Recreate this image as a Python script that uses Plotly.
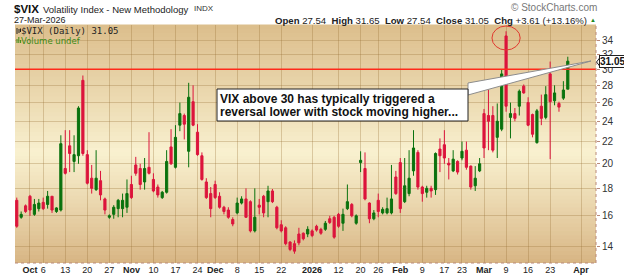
import math
import plotly.graph_objects as go

# ---------------- data ----------------
dates = [
    "2025-09-26", "2025-09-29", "2025-09-30",
    "2025-10-01", "2025-10-02", "2025-10-03", "2025-10-06", "2025-10-07", "2025-10-08", "2025-10-09",
    "2025-10-10", "2025-10-13", "2025-10-14", "2025-10-15", "2025-10-16", "2025-10-17", "2025-10-20",
    "2025-10-21", "2025-10-22", "2025-10-23", "2025-10-24", "2025-10-27", "2025-10-28", "2025-10-29",
    "2025-10-30", "2025-10-31",
    "2025-11-03", "2025-11-04", "2025-11-05", "2025-11-06", "2025-11-07", "2025-11-10", "2025-11-11",
    "2025-11-12", "2025-11-13", "2025-11-14", "2025-11-17", "2025-11-18", "2025-11-19", "2025-11-20",
    "2025-11-21", "2025-11-24", "2025-11-25", "2025-11-26", "2025-11-28",
    "2025-12-01", "2025-12-02", "2025-12-03", "2025-12-04", "2025-12-05", "2025-12-08", "2025-12-09",
    "2025-12-10", "2025-12-11", "2025-12-12", "2025-12-15", "2025-12-16", "2025-12-17", "2025-12-18",
    "2025-12-19", "2025-12-22", "2025-12-23", "2025-12-24", "2025-12-26", "2025-12-29", "2025-12-30",
    "2025-12-31",
    "2026-01-02", "2026-01-05", "2026-01-06", "2026-01-07", "2026-01-08", "2026-01-09", "2026-01-12",
    "2026-01-13", "2026-01-14", "2026-01-15", "2026-01-16", "2026-01-20", "2026-01-21", "2026-01-22",
    "2026-01-23", "2026-01-26", "2026-01-27", "2026-01-28", "2026-01-29", "2026-01-30",
    "2026-02-02", "2026-02-03", "2026-02-04", "2026-02-05", "2026-02-06", "2026-02-09", "2026-02-10",
    "2026-02-11", "2026-02-12", "2026-02-13", "2026-02-17", "2026-02-18", "2026-02-19", "2026-02-20",
    "2026-02-23", "2026-02-24", "2026-02-25", "2026-02-26", "2026-02-27",
    "2026-03-02", "2026-03-03", "2026-03-04", "2026-03-05", "2026-03-06", "2026-03-09", "2026-03-10",
    "2026-03-11", "2026-03-12", "2026-03-13", "2026-03-16", "2026-03-17", "2026-03-18", "2026-03-19",
    "2026-03-20", "2026-03-23", "2026-03-24", "2026-03-25", "2026-03-26", "2026-03-27",
]
future_dates = ["2026-03-30", "2026-03-31", "2026-04-01"]

open_ = [
    17.1, 15.9, 16.7,
    17.4, 16.1, 16.5, 16.95, 16.8, 17.4, 16.3, 16.4, 19.6, 21.6, 20.2, 20.7, 28.6, 20.8, 18.8, 17.9,
    18.6, 17.2, 15.9, 16.1, 16.5, 16.5, 16.6,
    18.3, 19.9, 19.6, 18.5, 19.7, 18.7, 18.1, 17.3, 17.7, 21.5, 19.7, 23.6, 24.6, 21.1, 26.1, 22.9,
    20.7, 18.5, 17.6,
    18.3, 17.4, 16.6, 16.4, 15.75, 16.2, 16.9, 17.2, 17.0, 15.0, 16.75, 17.4, 17.0, 17.8, 16.6, 15.4,
    15.2, 14.3, 14.2, 14.8, 14.85, 14.8,
    15.0, 15.3, 15.1, 15.1, 15.8, 15.9, 16.1, 15.5, 16.5, 16.8, 15.5, 20.1, 19.6, 16.9, 15.8, 17.1,
    16.2, 16.2, 16.2, 18.9,
    20.1, 17.0, 17.6, 19.4, 21.0, 18.1, 17.7, 18.0, 17.9, 21.3, 21.7, 20.05, 19.4, 20.2, 20.5, 21.2,
    19.8, 18.2, 19.4,
    24.8, 24.6, 24.6, 22.4, 23.2, 34.6, 24.4, 24.8, 25.6, 27.9, 26.0, 24.7, 21.9, 25.6, 24.4, 29.4,
    26.2, 25.9, 26.5, 27.54,
]
high = [
    17.3, 16.3, 16.8,
    17.5, 17.2, 17.2, 17.3, 17.8, 17.4, 16.6, 22.6, 23.1, 23.1, 22.6, 25.6, 29.2, 21.2, 19.9, 21.2,
    19.4, 17.3, 16.1, 16.75, 17.2, 17.6, 18.7,
    19.0, 20.6, 20.0, 20.5, 22.9, 19.2, 18.3, 17.8, 21.2, 23.2, 23.6, 26.0, 24.8, 28.3, 28.0, 23.7,
    21.0, 18.8, 18.1,
    18.6, 17.7, 16.7, 16.6, 15.9, 17.3, 17.4, 18.0, 17.1, 18.0, 17.2, 17.5, 18.2, 17.95, 16.7, 15.7,
    15.3, 14.35, 14.4, 15.2, 14.9, 15.3,
    15.1, 15.4, 15.2, 15.65, 16.0, 16.0, 16.2, 16.5, 18.3, 16.9, 16.1, 21.1, 21.0, 16.95, 16.4, 17.6,
    16.6, 17.3, 19.9, 19.4,
    20.5, 20.5, 21.2, 23.1, 21.2, 18.2, 18.2, 18.2, 21.0, 22.3, 23.1, 20.5, 21.2, 20.3, 22.0, 22.0,
    19.85, 19.8, 20.5,
    25.3, 27.5, 25.6, 25.9, 30.0, 35.3, 26.0, 25.4, 27.5, 28.1, 26.6, 24.8, 25.3, 26.9, 27.9, 31.0,
    28.0, 26.1, 28.5, 31.65,
]
low = [
    15.2, 15.8, 16.2,
    16.0, 16.0, 16.3, 16.4, 16.5, 16.2, 16.2, 16.3, 19.1, 19.3, 19.3, 20.0, 20.7, 18.3, 17.6, 17.8,
    17.1, 16.1, 15.8, 15.8, 15.9, 15.9, 16.2,
    17.2, 19.0, 17.9, 17.9, 19.1, 17.7, 17.3, 17.2, 17.6, 19.9, 19.6, 23.0, 22.2, 19.7, 23.5, 20.7,
    18.6, 17.2, 15.9,
    17.2, 16.5, 16.1, 15.8, 15.3, 16.1, 16.8, 15.85, 14.9, 14.9, 16.1, 15.9, 15.9, 16.9, 15.1, 14.9,
    14.1, 13.75, 13.6, 14.1, 14.4, 14.6,
    14.6, 14.95, 14.75, 15.0, 15.45, 14.5, 15.2, 15.0, 16.4, 15.9, 15.4, 19.3, 17.1, 15.5, 15.7, 15.9,
    16.1, 16.1, 16.1, 17.5,
    16.2, 16.9, 17.4, 19.0, 17.9, 17.0, 17.3, 17.3, 17.5, 19.3, 20.0, 18.7, 19.3, 19.1, 20.3, 19.5,
    17.9, 17.8, 19.3,
    20.5, 21.2, 21.0, 20.5, 23.0, 25.0, 22.3, 24.0, 24.6, 27.0, 23.5, 22.4, 21.8, 23.6, 24.2, 20.4,
    25.7, 25.0, 26.3, 27.54,
]
close = [
    15.3, 16.1, 16.3,
    16.4, 16.8, 16.9, 16.5, 17.4, 16.4, 16.55, 21.8, 19.2, 20.9, 20.8, 25.4, 20.9, 18.4, 18.0, 18.8,
    17.5, 16.4, 16.0, 16.6, 17.1, 17.1, 17.6,
    17.3, 19.2, 18.3, 19.6, 19.2, 17.8, 17.5, 17.7, 20.2, 20.0, 22.4, 24.8, 23.7, 26.6, 23.6, 20.8,
    18.7, 17.3, 16.5,
    17.3, 16.6, 16.3, 15.9, 15.45, 16.9, 17.2, 15.9, 15.0, 15.9, 16.6, 16.2, 17.8, 17.0, 15.2, 15.0,
    14.2, 13.85, 13.75, 14.25, 14.5, 15.1,
    14.7, 15.05, 14.85, 15.5, 15.55, 14.6, 15.3, 16.1, 17.0, 16.0, 16.0, 20.3, 17.2, 15.8, 16.2, 16.3,
    16.45, 16.5, 17.2, 17.6,
    16.5, 18.2, 18.8, 21.4, 18.1, 17.6, 18.0, 17.8, 20.9, 20.7, 20.5, 19.9, 20.4, 19.3, 21.1, 19.7,
    18.1, 18.8, 20.0,
    21.4, 24.0, 21.2, 24.0, 29.4, 25.6, 24.8, 24.3, 27.3, 27.1, 23.6, 22.7, 25.1, 24.3, 26.9, 26.1,
    27.1, 25.5, 27.44, 31.05,
]

tick_dates = [
    "2025-10-01", "2025-10-06", "2025-10-13", "2025-10-20", "2025-10-27",
    "2025-11-03", "2025-11-10", "2025-11-17", "2025-11-24",
    "2025-12-01", "2025-12-08", "2025-12-15", "2025-12-22",
    "2026-01-02", "2026-01-12", "2026-01-20", "2026-01-26",
    "2026-02-02", "2026-02-09", "2026-02-17", "2026-02-23",
    "2026-03-02", "2026-03-09", "2026-03-16", "2026-03-23", "2026-04-01",
]
tick_labels = [
    "<b>Oct</b>", "6", "13", "20", "27",
    "<b>Nov</b>", "10", "17", "24",
    "<b>Dec</b>", "8", "15", "22",
    "<b>2026</b>", "12", "20", "26",
    "<b>Feb</b>", "9", "17", "23",
    "<b>Mar</b>", "9", "16", "23", "<b>Apr</b>",
]
y_ticks = [14, 16, 18, 20, 22, 24, 26, 28, 30, 32, 34]
threshold = 30
spike_date = "2026-03-09"
annotation_lines = [
    "VIX above 30 has typically triggered a",
    "reversal lower with stock moving higher...",
]

# ---------------- layout geometry ----------------
W, H = 624, 278
ML, MR, MT, MB = 15, 28, 25, 15
PW, PH = W - ML - MR, H - MT - MB

def px(x):
    return (x - ML) / PW

def py(y):
    return (H - MB - y) / PH

axis_dates = dates + future_dates
pos = {d: i for i, d in enumerate(axis_dates)}
xs = list(range(len(dates)))
x_range = [-0.4, 131.4]
y_range = [math.log10(13.07), math.log10(36.26)]

RED = "#dc143c"
GREEN = "#0a720e"

fig = go.Figure()

# threshold line
fig.add_trace(go.Scatter(
    x=x_range, y=[threshold, threshold], mode="lines",
    line=dict(color="#ff2a1a", width=1.4), hoverinfo="skip", showlegend=False,
))

fig.add_trace(go.Candlestick(
    x=xs, open=open_, high=high, low=low, close=close,
    increasing=dict(line=dict(color=GREEN, width=1), fillcolor=GREEN),
    decreasing=dict(line=dict(color=RED, width=1), fillcolor=RED),
    whiskerwidth=0, showlegend=False,
))

shapes = []
# gradient background bands
def lerp(c1, c2, t):
    return tuple(round(a + (b - a) * t) for a, b in zip(c1, c2))

top_c = (220, 190, 140)
mid_c = (249, 241, 208)
bot_c = (215, 180, 130)
nb = 60
for k in range(nb):
    f0 = k / nb
    f1 = (k + 1) / nb
    fm = (f0 + f1) / 2  # 0 = bottom, 1 = top
    mid = 0.47
    if fm < mid:
        c = lerp(bot_c, mid_c, (fm / mid) ** 0.9)
    else:
        c = lerp(mid_c, top_c, ((fm - mid) / (1 - mid)) ** 0.9)
    shapes.append(dict(type="rect", xref="paper", yref="paper", x0=0, x1=1, y0=f0, y1=f1 + 0.002,
                       fillcolor="rgb(%d,%d,%d)" % c, line=dict(width=0), layer="below"))

# dotted axis lines
shapes.append(dict(type="line", xref="paper", yref="paper", x0=1, x1=1, y0=0, y1=1,
                   line=dict(color="#b98a7a", width=1, dash="dot")))
shapes.append(dict(type="line", xref="paper", yref="paper", x0=0, x1=1, y0=0, y1=0,
                   line=dict(color="#b98a7a", width=1, dash="dot")))

# red circle around the spike
si = pos[spike_date]
shapes.append(dict(type="circle", xref="x", yref="paper", x0=si - 3.2, x1=si + 3.2,
                   y0=py(50), y1=py(26), line=dict(color="#e03a30", width=1)))

# call-out wedge + box
shapes.append(dict(type="path", xref="paper", yref="paper",
                   path="M %f,%f L %f,%f L %f,%f Z" % (px(468), py(83), px(591), py(61), px(468), py(95)),
                   fillcolor="white", line=dict(color="#8c8c8c", width=1)))
shapes.append(dict(type="rect", xref="paper", yref="paper", x0=px(217), x1=px(468), y0=py(121), y1=py(89),
                   fillcolor="white", line=dict(color="#222", width=1)))

# value flag pointer
shapes.append(dict(type="path", xref="paper", yref="paper",
                   path="M %f,%f L %f,%f L %f,%f Z" % (px(596.5), py(62), px(600), py(57.5), px(600), py(66.5)),
                   fillcolor="white", line=dict(color="#222", width=1)))

# tiny legend icons
for (x0, x1, y0, y1) in [(16.5, 17.5, 28, 34), (18.5, 19.5, 29, 33), (20, 21, 28.5, 32)]:
    shapes.append(dict(type="rect", xref="paper", yref="paper", x0=px(x0), x1=px(x1), y0=py(y1), y1=py(y0),
                       fillcolor="#222", line=dict(width=0)))
for (x0, x1, y0, y1) in [(16.5, 17.5, 39, 43), (18.3, 19.3, 37, 43), (20.1, 21.1, 40, 43)]:
    shapes.append(dict(type="rect", xref="paper", yref="paper", x0=px(x0), x1=px(x1), y0=py(y1), y1=py(y0),
                       fillcolor="#3a8a14", line=dict(width=0)))

SANS = "Liberation Sans, Arial, sans-serif"
ann = []
def text(x, y, t, size, color="#222", xanchor="left", family=SANS):
    ann.append(dict(xref="paper", yref="paper", x=px(x), y=py(y), text=t, showarrow=False,
                    xanchor=xanchor, yanchor="middle", borderpad=0, borderwidth=0,
                    font=dict(size=size, color=color, family=family)))

text(14, 8.5, "<b>$VIX</b>", 11.5, "#111")
text(43, 9, "Volatility Index - New Methodology", 9.5, "#222")
text(194, 8.5, "INDX", 8, "#333")
text(14, 20, "27-Mar-2026", 9, "#222")
text(587, 20,
     "<b>Open</b> %.2f  <b>High</b> %.2f  <b>Low</b> %.2f  <b>Close</b> %.2f  <b>Chg</b> %+.2f (%+.2f%%)"
     % (open_[-1], high[-1], low[-1], close[-1], close[-1] - close[-2],
        (close[-1] - close[-2]) / close[-2] * 100),
     9.6, "#222", xanchor="right")
text(590, 19.5, "▲", 6, "#1e8a1e")
text(597, 7.5, "© StockCharts.com", 10, "#777", xanchor="right")
text(21, 31, "$VIX (Daily) %.2f" % close[-1], 9, "#222", family="DejaVu Sans Mono, monospace")
text(21, 41, "Volume undef", 8.5, "#3a8a14", family="DejaVu Sans, Verdana, sans-serif")
text(219.5, 99, "<b>%s</b>" % annotation_lines[0], 12, "#111")
text(219.5, 112, "<b>%s</b>" % annotation_lines[1], 12, "#111")

ann.append(dict(xref="paper", yref="y", x=1, y=math.log10(close[-1]), xanchor="left", xshift=3,
                text="<b>%.2f</b>" % close[-1], showarrow=False, bgcolor="white",
                bordercolor="#222", borderwidth=1, borderpad=0,
                font=dict(size=10, color="#111", family=SANS)))

fig.update_layout(
    width=W, height=H,
    margin=dict(l=ML, r=MR, t=MT, b=MB, pad=0, autoexpand=False),
    paper_bgcolor="white", plot_bgcolor="#f0e2b8",
    shapes=shapes, annotations=ann,
    showlegend=False,
    xaxis=dict(
        range=x_range, rangeslider=dict(visible=False), automargin=False,
        tickvals=[pos[d] for d in tick_dates], ticktext=tick_labels,
        tickfont=dict(size=9, color="#222", family=SANS),
        showgrid=True, gridcolor="rgba(150,110,50,0.3)", gridwidth=1,
        zeroline=False, showline=False, ticks="", fixedrange=True,
    ),
    yaxis=dict(
        type="log", range=y_range, side="right", automargin=False,
        tickvals=y_ticks, ticktext=[str(v) for v in y_ticks],
        tickfont=dict(size=10, color="#333", family=SANS),
        showgrid=True, gridcolor="rgba(150,110,50,0.3)", gridwidth=1,
        zeroline=False, showline=False, ticks="outside", ticklen=3, tickcolor="#b98a7a",
        fixedrange=True,
    ),
)

fig.write_html("out.html")
